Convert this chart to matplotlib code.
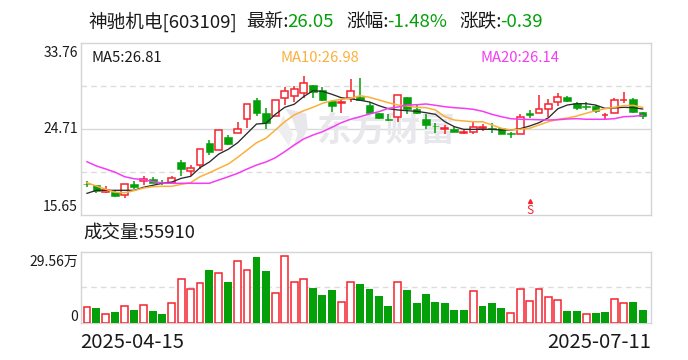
import matplotlib
matplotlib.use("Agg")
import matplotlib.pyplot as plt
from matplotlib.patches import Polygon

plt.rcParams['font.family'] = ['Noto Sans CJK SC', 'DejaVu Sans']

RED = '#f5232d'
GREEN = '#04a00a'
INK = '#1a1a1a'

opens = [18.95,18.80,18.12,18.07,17.79,18.88,19.20,19.41,19.16,19.02,21.23,20.25,20.95,23.23,22.52,23.86,24.25,25.73,27.76,26.39,
         26.10,27.94,28.15,28.46,29.34,28.81,27.65,27.41,27.94,28.07,27.23,26.39,25.79,26.00,28.04,26.81,25.73,25.07,24.75,24.67,
         24.28,24.42,24.85,24.81,24.78,24.28,24.15,26.34,26.42,26.84,27.52,28.04,27.41,27.13,27.13,26.18,26.36,27.73,27.83,26.49]
highs = [19.23,18.82,18.67,18.28,18.88,19.26,19.72,19.62,19.34,19.76,21.44,20.88,22.63,23.58,24.57,24.07,25.47,27.31,27.97,26.95,
         27.73,29.13,29.26,30.29,29.34,29.10,27.65,27.83,29.97,30.07,27.58,26.39,26.29,28.25,28.04,27.23,26.25,25.30,25.13,24.88,
         24.60,25.44,25.23,25.30,24.78,24.42,26.29,26.67,28.29,27.86,28.50,28.18,27.55,27.55,27.26,26.42,27.97,28.57,27.97,26.49]
lows = [18.60,18.00,18.00,17.55,17.44,18.36,18.81,18.99,18.81,18.95,19.79,19.76,20.46,22.00,22.52,23.02,24.25,24.81,26.10,24.74,
        26.10,27.23,27.58,27.94,28.00,27.65,26.49,26.39,27.58,27.68,26.25,25.76,25.55,25.47,26.32,26.25,24.70,24.31,24.18,24.39,
        24.23,24.21,24.53,24.31,24.15,23.76,24.15,25.86,26.42,26.00,27.13,27.55,26.71,26.71,26.42,25.73,26.36,27.41,26.39,25.76]
closes = [18.88,18.21,18.23,17.68,18.88,18.57,19.47,19.05,19.09,19.51,20.49,20.57,22.63,22.28,24.57,23.16,24.74,27.31,26.42,25.30,
          27.73,28.67,28.89,29.52,28.63,27.76,27.16,27.55,28.67,27.76,26.39,25.89,25.65,28.25,26.84,26.39,25.16,24.97,24.81,24.39,
          24.34,24.95,24.92,24.67,24.15,24.21,25.94,26.23,26.78,27.31,28.04,27.68,26.95,27.05,26.63,26.23,27.73,27.79,26.49,26.05]
ma5 = [17.93,18.25,18.25,18.25,18.25,18.25,18.57,18.78,18.99,19.12,19.51,19.72,20.63,21.23,22.07,22.57,23.26,24.25,25.23,25.30,
       26.25,26.99,27.31,28.11,28.74,28.67,28.36,28.00,27.88,27.73,27.55,27.16,26.84,26.71,26.63,26.57,26.42,26.25,25.47,24.95,
       24.67,24.67,24.67,24.67,24.60,24.60,24.74,25.02,25.37,25.89,26.84,27.23,27.37,27.37,27.23,26.88,26.92,26.99,26.95,26.81]
ma10 = [19.05,18.70,18.36,18.04,18.00,18.21,18.49,18.63,18.67,18.67,18.88,19.05,19.68,20.10,20.57,21.02,21.72,22.49,23.26,23.73,
        24.60,25.47,26.18,26.63,26.99,27.41,27.68,27.83,27.94,28.21,28.04,27.76,27.47,27.23,27.13,26.99,26.95,26.71,26.00,25.65,
        25.55,25.47,25.47,25.13,24.78,24.60,24.67,24.78,25.13,25.47,25.73,25.86,26.07,26.36,26.63,26.84,26.99,27.16,27.20,26.98]
ma20 = [21.26,20.81,20.49,20.15,19.68,19.47,19.37,19.16,19.02,18.99,18.99,18.99,18.99,18.99,19.34,19.68,20.04,20.49,20.91,21.23,
        21.68,22.32,23.02,23.65,24.07,24.42,24.88,25.37,25.73,26.00,26.29,26.53,26.88,27.02,27.23,27.26,27.34,27.20,27.05,26.95,
        26.88,26.78,26.57,26.25,26.00,25.79,25.73,25.71,25.68,25.65,25.68,25.76,25.79,25.73,25.73,25.73,25.79,26.00,26.04,26.14]
volumes = [6.8,6.1,3.9,4.4,7.2,5.3,7.6,4.9,3.6,8.1,18.1,13.9,16.4,21.9,20.6,16.9,25.6,21.8,27.4,21.5,
           12.6,27.6,17.2,18.1,14.4,11.5,13.6,8.6,17.2,16.1,14.0,11.1,6.9,16.8,13.6,8.2,11.9,8.6,8.2,5.3,
           5.3,13.1,6.9,8.2,6.1,4.3,14.3,9.3,13.9,10.6,9.7,4.9,4.9,3.9,4.0,4.4,10.1,8.1,8.6,5.59]
volume_up = "rgrgrgrggrrrrgrgrrggrrrrgggrrggggrgggggggrgggrrrrrrggrggrrgg"
signal_index = 47
signal_price = 16.15

price_min, price_max = 15.65, 33.76
price_labels = ['33.76', '24.71', '15.65']
volume_max = 29.56
date_labels = ['2025-04-15', '2025-07-11']
xs = list(range(len(closes)))

W, H = 688, 360
fig = plt.figure(figsize=(W / 100, H / 100), dpi=100, facecolor='white')


def panel(top, bottom):
    return fig.add_axes([80.7 / W, 1 - bottom / H, 570.6 / W, (bottom - top) / H])


ax = panel(43, 215)
av = panel(251.7, 323)
for a in (ax, av):
    a.set_xlim(-0.669, 59.92)
    a.set_xticks([])
    a.set_yticks([])
    for s in a.spines.values():
        s.set_color('#d4d4d6')
        s.set_linewidth(1)

ax.set_ylim(price_min, price_max)
av.set_ylim(0, volume_max)

span = price_max - price_min
for frac in (0.25, 0.75):
    ax.axhline(price_min + span * frac, color='#dcdcdc', lw=1, dashes=(4, 3), zorder=1)
ax.axhline(price_min + span / 2, color='#d8d8d8', lw=1, zorder=1)
av.axhline(volume_max / 2, color='#dcdcdc', lw=1, dashes=(4, 3), zorder=1)

# watermark
ax.text(0.535, 0.492, '东方财富', transform=ax.transAxes, fontsize=25, fontweight='bold',
        color='#e8e8ec', ha='center', va='center', zorder=1.5)
ax.add_patch(Polygon([[0.358, 0.62], [0.395, 0.59], [0.398, 0.50], [0.385, 0.42], [0.372, 0.39],
                      [0.380, 0.47], [0.372, 0.55]], closed=True, transform=ax.transAxes,
                     facecolor='#e8e8ec', edgecolor='none', zorder=1.5))
ax.add_patch(Polygon([[0.355, 0.58], [0.345, 0.50], [0.365, 0.40], [0.372, 0.47]], closed=True,
                     transform=ax.transAxes, facecolor='#eeeef1', edgecolor='none', zorder=1.5))

# candles
for x, o, h, l, c in zip(xs, opens, highs, lows, closes):
    up = c >= o
    col = RED if up else GREEN
    ax.vlines(x, l, h, color=col, lw=1.1, zorder=2)
    ax.bar(x, abs(c - o), bottom=min(o, c), width=0.72 if up else 0.82,
           facecolor='white' if up else GREEN, edgecolor=col, linewidth=1.1 if up else 0.4, zorder=3)

ax.plot(xs, ma5, color='#2b2b2b', lw=0.95, zorder=4)
ax.plot(xs, ma10, color='#fbb03b', lw=1.1, zorder=4)
ax.plot(xs, ma20, color='#f43cf4', lw=1.1, zorder=4)

ax.text(xs[signal_index], signal_price, 'S', color=RED, fontsize=8.5, ha='center', va='center', zorder=5)
ax.plot([xs[signal_index]], [signal_price + 1.0], marker='^', ms=2.8, color=RED, zorder=5)

# volume
for x, v, flag in zip(xs, volumes, volume_up):
    if flag == 'r':
        av.bar(x, v, width=0.72, facecolor='white', edgecolor=RED, linewidth=1.1, zorder=3)
    else:
        av.bar(x, v, width=0.84, facecolor=GREEN, edgecolor='none', zorder=3)


def px(x, y, s, **kw):
    kw.setdefault('color', INK)
    kw.setdefault('va', 'center')
    fig.text(x / W, 1 - y / H, s, **kw)


TS = 13.4
px(88, 22, '神驰机电[603109]', fontsize=TS)
px(246, 22, '最新:', fontsize=TS)
px(287, 22, '26.05', fontsize=TS, color=GREEN)
px(346, 22, '涨幅:', fontsize=TS)
px(387, 22, '-1.48%', fontsize=TS, color=GREEN)
px(459, 22, '涨跌:', fontsize=TS)
px(500, 22, '-0.39', fontsize=TS, color=GREEN)

px(78, 53, price_labels[0], fontsize=10, ha='right')
px(78, 129, price_labels[1], fontsize=10, ha='right')
px(78, 207, price_labels[2], fontsize=10, ha='right')

px(91, 58, 'MA5:26.81', fontsize=10.7)
px(281, 58, 'MA10:26.98', fontsize=10.7, color='#fbb03b')
px(481, 58, 'MA20:26.14', fontsize=10.7, color='#f43cf4')

px(83, 234, '成交量:55910', fontsize=13.3)
px(78, 262, '29.56万', fontsize=10, ha='right')
px(78, 317, '0', fontsize=10, ha='right')
px(80, 342, date_labels[0], fontsize=14.6)
px(651, 342, date_labels[1], fontsize=14.6, ha='right')

fig.savefig('out.png', dpi=100, facecolor='white')
